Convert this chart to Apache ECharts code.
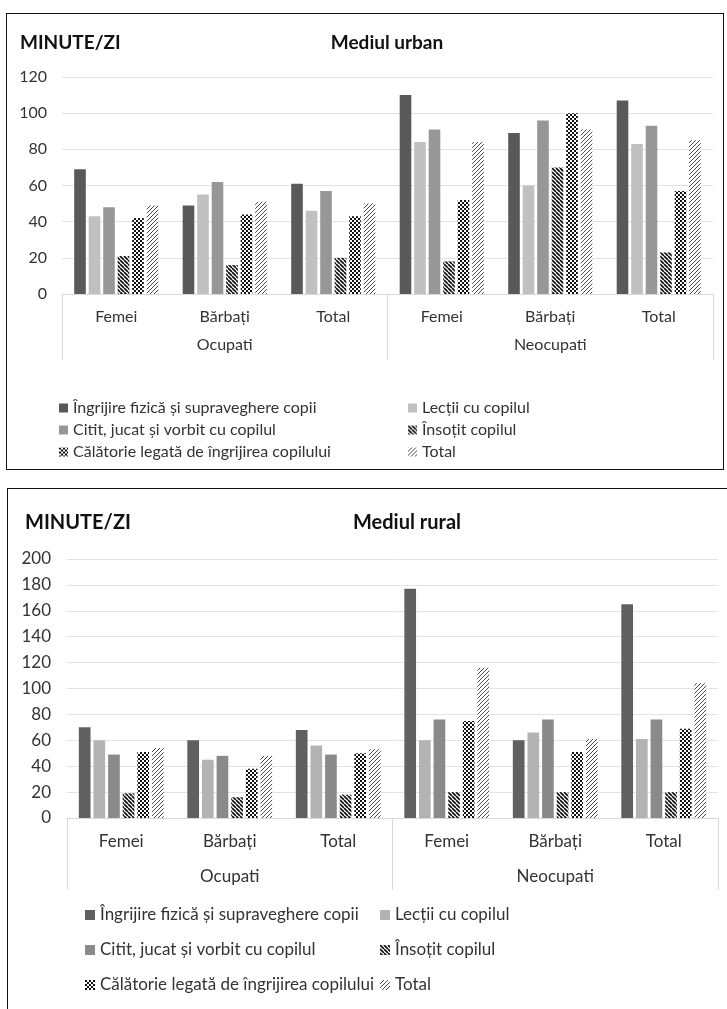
<!DOCTYPE html>
<html><head><meta charset="utf-8">
<script src="https://cdn.jsdelivr.net/npm/echarts@6/dist/echarts.min.js"></script>
<style>
html,body{margin:0;padding:0;width:727px;height:1009px;overflow:hidden;background:#fff}
#c1{position:absolute;left:0;top:0;width:727px;height:480px}
#c2{position:absolute;left:0;top:480px;width:727px;height:529px}
.box{position:absolute;border:1.6px solid #111;pointer-events:none;box-sizing:border-box}
</style></head><body>
<div id="c1"></div><div id="c2"></div>
<div class="box" style="left:6px;top:13px;width:718px;height:457px"></div>
<div class="box" style="left:7px;top:488px;width:760px;height:560px"></div>
<script>
// ---- data ----
const categories = ['Femei', 'Bărbați', 'Total', 'Femei', 'Bărbați', 'Total'];
const groups = ['Ocupati', 'Neocupati'];
const seriesNames = [
  'Îngrijire fizică și supraveghere copii',
  'Lecții cu copilul',
  'Citit, jucat și vorbit cu copilul',
  'Însoțit copilul',
  'Călătorie legată de îngrijirea copilului',
  'Total'
];
const yTicksUrban = [0, 20, 40, 60, 80, 100, 120];
const yTicksRural = [0, 20, 40, 60, 80, 100, 120, 140, 160, 180, 200];

const urbanIngrijire = [69, 49, 61, 110, 89, 107];
const urbanLectii    = [43, 55, 46, 84, 60, 83];
const urbanCitit     = [48, 62, 57, 91, 96, 93];
const urbanInsotit   = [21, 16, 20, 18, 70, 23];
const urbanCalatorie = [42, 44, 43, 52, 100, 57];
const urbanTotal     = [49, 51, 50, 84, 91, 85];

const ruralIngrijire = [70, 60, 68, 177, 60, 165];
const ruralLectii    = [60, 45, 56, 60, 66, 61];
const ruralCitit     = [49, 48, 49, 76, 76, 76];
const ruralInsotit   = [19, 16, 18, 20, 20, 20];
const ruralCalatorie = [51, 38, 50, 75, 51, 69];
const ruralTotal     = [54, 48, 53, 116, 61, 104];

// ---- patterns ----
function pattern(kind) {
  const s = 4;
  const c = document.createElement('canvas');
  c.width = s; c.height = s;
  const g = c.getContext('2d');
  g.fillStyle = '#fff'; g.fillRect(0, 0, s, s);
  if (kind === 'check') {
    g.fillStyle = '#111';
    g.fillRect(0, 0, 2, 2); g.fillRect(2, 2, 2, 2);
  } else {
    g.strokeStyle = kind === 'down' ? '#111' : '#333';
    g.lineWidth = kind === 'down' ? 1.7 : 0.9;
    g.beginPath();
    for (let o = -s; o <= s; o += s) {
      if (kind === 'down') { g.moveTo(o, 0); g.lineTo(o + s, s); }
      else { g.moveTo(o, s); g.lineTo(o + s, 0); }
    }
    g.stroke();
  }
  return { image: c, repeat: 'repeat' };
}
const FONT = 'Lato, "Liberation Sans", sans-serif';

function build(cfg) {
  const fills = [cfg.c1, cfg.c2, cfg.c3, pattern('down'), pattern('check'), pattern('up')];
  const series = cfg.data.map((d, i) => ({
    name: seriesNames[i], type: 'bar', xAxisIndex: 0, data: d,
    barWidth: cfg.barWidth, barGap: '25%',
    itemStyle: { color: fills[i] }, silent: true
  }));
  const legends = seriesNames.map((n, i) => ({
    data: [n], left: cfg.legPos[i][0], top: cfg.legPos[i][1] - (cfg.legFont + 2) / 2,
    padding: 0, itemWidth: cfg.icon, itemHeight: cfg.icon, icon: 'rect', selectedMode: false,
    textStyle: { fontSize: cfg.legFont, lineHeight: cfg.legFont + 2, color: '#333', fontFamily: FONT }
  }));
  return {
    animation: false,
    textStyle: { fontFamily: FONT },
    grid: { left: cfg.grid[0], right: cfg.grid[1], top: cfg.grid[2], bottom: cfg.grid[3], outerBoundsMode: 'none', containLabel: false },
    xAxis: [
      { type: 'category', data: categories, position: 'bottom',
        axisLine: { lineStyle: { color: '#d9d9d9' } }, axisTick: { show: false },
        axisLabel: { fontSize: cfg.catFont, color: '#333', margin: cfg.catMargin, interval: 0, fontFamily: FONT } },
      { type: 'category', data: groups, position: 'bottom',
        axisLine: { show: false },
        axisTick: { show: true, length: cfg.sepLen, lineStyle: { color: '#d9d9d9' } },
        axisLabel: { fontSize: cfg.catFont, color: '#333', margin: cfg.grpMargin, fontFamily: FONT },
        splitLine: { show: false } }
    ],
    yAxis: { type: 'value', min: cfg.ticks[0], max: cfg.ticks[cfg.ticks.length - 1], interval: cfg.ticks[1] - cfg.ticks[0],
      axisLine: { show: false }, axisTick: { show: false },
      axisLabel: { fontSize: cfg.yFont, color: '#333', margin: cfg.yMargin, fontFamily: FONT },
      splitLine: { lineStyle: { color: '#e3e3e3' } } },
    legend: legends,
    graphic: [
      { type: 'text', x: cfg.t1[0], y: cfg.t1[1], style: { text: 'MINUTE/ZI', font: 'bold ' + cfg.tFont + 'px ' + FONT, fill: '#111', verticalAlign: 'middle', align: 'left' } },
      { type: 'text', x: cfg.t2[0], y: cfg.t2[1], style: { text: cfg.title, font: 'bold ' + cfg.tFont + 'px ' + FONT, fill: '#111', verticalAlign: 'middle', align: 'center' } }
    ],
    series
  };
}

const ch1 = echarts.init(document.getElementById('c1'), null, { renderer: 'canvas' });
ch1.setOption(build({
  title: 'Mediul urban', ticks: yTicksUrban,
  data: [urbanIngrijire, urbanLectii, urbanCitit, urbanInsotit, urbanCalatorie, urbanTotal],
  c1: '#595959', c2: '#c0c0c0', c3: '#979797',
  grid: [62, 14, 77, 186], barWidth: 11.6,
  catFont: 16, catMargin: 15, grpMargin: 43, sepLen: 66, yFont: 16, yMargin: 15,
  legFont: 16, icon: 9,
  legPos: [[59, 408], [408, 408], [59, 430], [408, 430], [59, 452], [408, 452]],
  tFont: 19, t1: [20, 43], t2: [387, 43]
}));

const ch2 = echarts.init(document.getElementById('c2'), null, { renderer: 'canvas' });
ch2.setOption(build({
  title: 'Mediul rural', ticks: yTicksRural,
  data: [ruralIngrijire, ruralLectii, ruralCitit, ruralInsotit, ruralCalatorie, ruralTotal],
  c1: '#606060', c2: '#b3b3b3', c3: '#8a8a8a',
  grid: [67, 9, 79, 191], barWidth: 11.7,
  catFont: 17, catMargin: 15, grpMargin: 50, sepLen: 72, yFont: 17, yMargin: 16,
  legFont: 17, icon: 10,
  legPos: [[85, 435], [380, 435], [85, 470], [380, 470], [85, 505], [380, 505]],
  tFont: 20, t1: [25, 43], t2: [407, 43]
}));
</script>
</body></html>
